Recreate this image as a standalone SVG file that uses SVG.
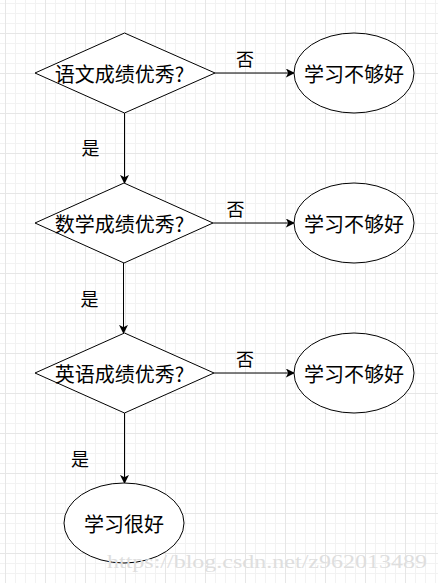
<svg xmlns="http://www.w3.org/2000/svg" width="438" height="583" viewBox="0 0 438 583">
<defs>
<pattern id="minor" x="5" y="3" width="10" height="10" patternUnits="userSpaceOnUse">
<path d="M0.5 0V10M0 0.5H10" stroke="#f2f2f2" stroke-width="1" fill="none"/>
</pattern>
<pattern id="major" x="5" y="33" width="40" height="40" patternUnits="userSpaceOnUse">
<path d="M0.5 0V40M0 0.5H40" stroke="#e6e6e6" stroke-width="1" fill="none"/>
</pattern>
<marker id="arr" viewBox="0 0 10 10" refX="9" refY="5" markerWidth="9" markerHeight="9" markerUnits="userSpaceOnUse" orient="auto">
<path d="M0 0L10 5L0 10L2.5 5Z" fill="#000"/>
</marker>
</defs>
<style>
.shape{fill:#fff;stroke:#000;stroke-width:1}
.t{font-family:"Noto Sans CJK SC","Noto Sans",sans-serif;font-size:20px;fill:#000;text-anchor:middle;dominant-baseline:central}
.lbl{font-family:"Noto Sans CJK SC","Noto Sans",sans-serif;font-size:18px;fill:#000;text-anchor:middle;dominant-baseline:central}
.edge{stroke:#000;stroke-width:1;fill:none;marker-end:url(#arr)}
</style>
<rect width="438" height="583" fill="#fff"/>
<rect width="438" height="583" fill="url(#minor)"/>
<rect width="438" height="583" fill="url(#major)"/>
<g id="connectors">
<path class="edge" d="M215 73H294"/>
<path class="edge" d="M124.5 113V183"/>
<path class="edge" d="M213 223H294"/>
<path class="edge" d="M123.5 263V333"/>
<path class="edge" d="M214 373H294"/>
<path class="edge" d="M124.5 413V483"/>
<text class="lbl" x="245" y="58">否</text>
<text class="lbl" x="90.5" y="147">是</text>
<text class="lbl" x="235.5" y="207.5">否</text>
<text class="lbl" x="89.5" y="298">是</text>
<text class="lbl" x="245" y="358">否</text>
<text class="lbl" x="80" y="458">是</text>
</g>
<g id="d1">
<polygon class="shape" points="35,73 124.5,33 215,73 124.5,113"/>
<text class="t" x="119.5" y="73">语文成绩优秀?</text>
</g>
<g id="e1">
<ellipse class="shape" cx="354" cy="73" rx="60" ry="40"/>
<text class="t" x="354" y="73">学习不够好</text>
</g>
<g id="d2">
<polygon class="shape" points="35,223 124,183 213,223 124,263"/>
<text class="t" x="119.5" y="223">数学成绩优秀?</text>
</g>
<g id="e2">
<ellipse class="shape" cx="354" cy="223" rx="60" ry="40"/>
<text class="t" x="354" y="223">学习不够好</text>
</g>
<g id="d3">
<polygon class="shape" points="35,373 124.5,333 214,373 124.5,413"/>
<text class="t" x="119.5" y="373">英语成绩优秀?</text>
</g>
<g id="e3">
<ellipse class="shape" cx="354" cy="373" rx="60" ry="40"/>
<text class="t" x="354" y="373">学习不够好</text>
</g>
<g id="e4">
<ellipse class="shape" cx="124" cy="523" rx="60" ry="40"/>
<text class="t" x="124" y="523">学习很好</text>
</g>
<text x="107" y="568" font-family="Liberation Serif,serif" font-size="19" fill="#dedede" textLength="320" lengthAdjust="spacingAndGlyphs">https://blog.csdn.net/z962013489</text>
</svg>
